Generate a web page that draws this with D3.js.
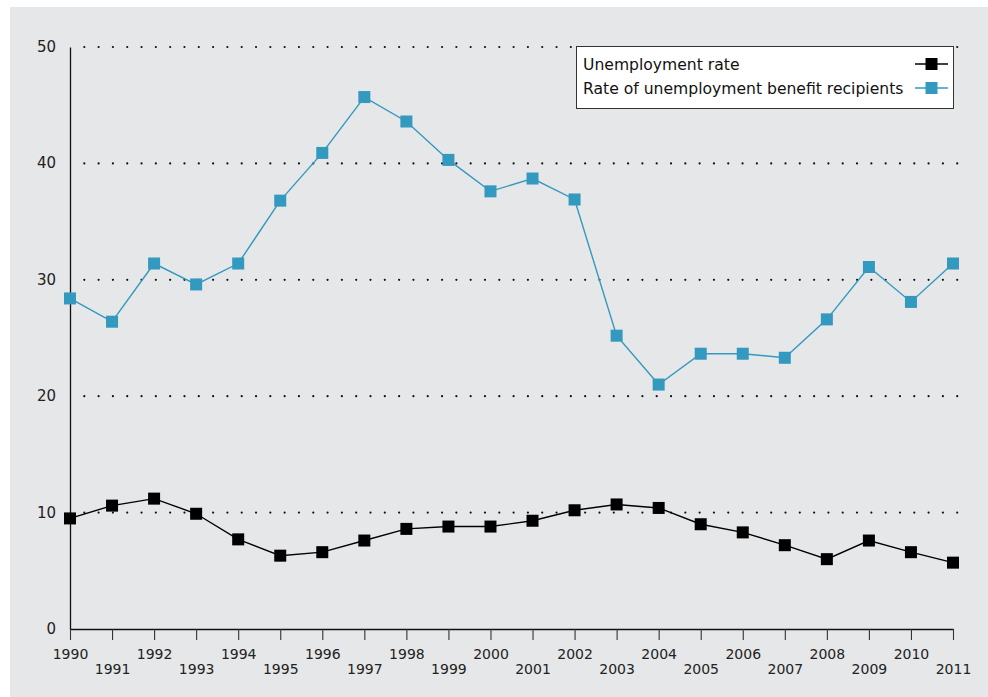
<!DOCTYPE html>
<html>
<head>
<meta charset="utf-8">
<script src="https://cdn.jsdelivr.net/npm/d3@7"></script>
<style>
  body { margin: 0; background: #fff; }
  svg { display: block; }
</style>
</head>
<body>
<svg id="chart" width="988" height="697"></svg>
<script>
const years = [1990,1991,1992,1993,1994,1995,1996,1997,1998,1999,2000,2001,2002,2003,2004,2005,2006,2007,2008,2009,2010,2011];
const unemploymentRate = [9.5,10.6,11.2,9.9,7.7,6.3,6.6,7.6,8.6,8.8,8.8,9.3,10.2,10.7,10.4,9.0,8.3,7.2,6.0,7.6,6.6,5.7];
const benefitRecipients = [28.4,26.4,31.4,29.6,31.4,36.8,40.9,45.7,43.6,40.3,37.6,38.7,36.9,25.2,21.0,23.65,23.65,23.3,26.6,31.1,28.1,31.4];
const yTicks = [0,10,20,30,40,50];
const gridValues = [10,20,30,40,50];
const seriesNames = ["Unemployment rate", "Rate of unemployment benefit recipients"];
const seriesColors = ["#000000", "#3399bf"];

const svg = d3.select("#chart");
svg.append("rect").attr("x", 10).attr("y", 7).attr("width", 978).attr("height", 690).attr("fill", "#e6e7e9");

const x = d3.scaleLinear().domain([1990, 2011]).range([70, 953]);
const y = d3.scaleLinear().domain([0, 50]).range([629, 47]);

// dotted grid
const grid = svg.append("g");
gridValues.forEach(v => {
  grid.append("line")
    .attr("x1", x(1990) + 14.3).attr("x2", 958)
    .attr("y1", y(v)).attr("y2", y(v))
    .attr("stroke", "#111").attr("stroke-width", 2.2)
    .attr("stroke-linecap", "round")
    .attr("stroke-dasharray", "0.01 14.3");
});

// y axis
const yAxis = svg.append("g").attr("transform", `translate(${x(1990)},0)`)
  .call(d3.axisLeft(y).tickValues(yTicks).tickSize(0).tickPadding(14).tickFormat(d3.format("d")));
yAxis.select(".domain").attr("stroke", "#111").attr("stroke-width", 1.3);
yAxis.selectAll("text").attr("font-family", "DejaVu Sans").attr("font-size", 15).attr("fill", "#222").attr("dy", "0.3em");

// x axis
const xAxis = svg.append("g").attr("transform", `translate(0,${y(0)})`)
  .call(d3.axisBottom(x).tickValues(years).tickSize(11).tickSizeOuter(0).tickFormat(d3.format("d")));
xAxis.select(".domain").attr("stroke", "#111").attr("stroke-width", 1.3);
xAxis.selectAll(".tick line").attr("stroke", "#333").attr("stroke-width", 1.1);
xAxis.selectAll("text")
  .attr("font-family", "DejaVu Sans").attr("font-size", 14).attr("fill", "#222")
  .attr("y", (d, i) => i % 2 === 0 ? 20 : 35)
  .attr("dy", "0.71em");

function drawSeries(values, color) {
  const line = d3.line().x((d, i) => x(years[i])).y(d => y(d));
  svg.append("path").datum(values).attr("d", line)
    .attr("fill", "none").attr("stroke", color).attr("stroke-width", 1.4);
  svg.append("g").selectAll("rect").data(values).join("rect")
    .attr("x", (d, i) => x(years[i]) - 6).attr("y", d => y(d) - 6)
    .attr("width", 12).attr("height", 12).attr("fill", color);
}
drawSeries(benefitRecipients, seriesColors[1]);
drawSeries(unemploymentRate, seriesColors[0]);

// legend
const lg = svg.append("g");
lg.append("rect").attr("x", 576.5).attr("y", 46.5).attr("width", 377).attr("height", 62)
  .attr("fill", "#fff").attr("stroke", "#333").attr("stroke-width", 1);
seriesNames.forEach((name, i) => {
  const cy = 64 + i * 24;
  lg.append("text").attr("x", 583).attr("y", cy + 5.5)
    .attr("font-family", "DejaVu Sans").attr("font-size", 15.6).attr("fill", "#111").text(name);
  lg.append("line").attr("x1", 915).attr("x2", 948).attr("y1", cy).attr("y2", cy)
    .attr("stroke", seriesColors[i]).attr("stroke-width", 1.4);
  lg.append("rect").attr("x", 925.5).attr("y", cy - 6).attr("width", 12).attr("height", 12).attr("fill", seriesColors[i]);
});
</script>
</body>
</html>
